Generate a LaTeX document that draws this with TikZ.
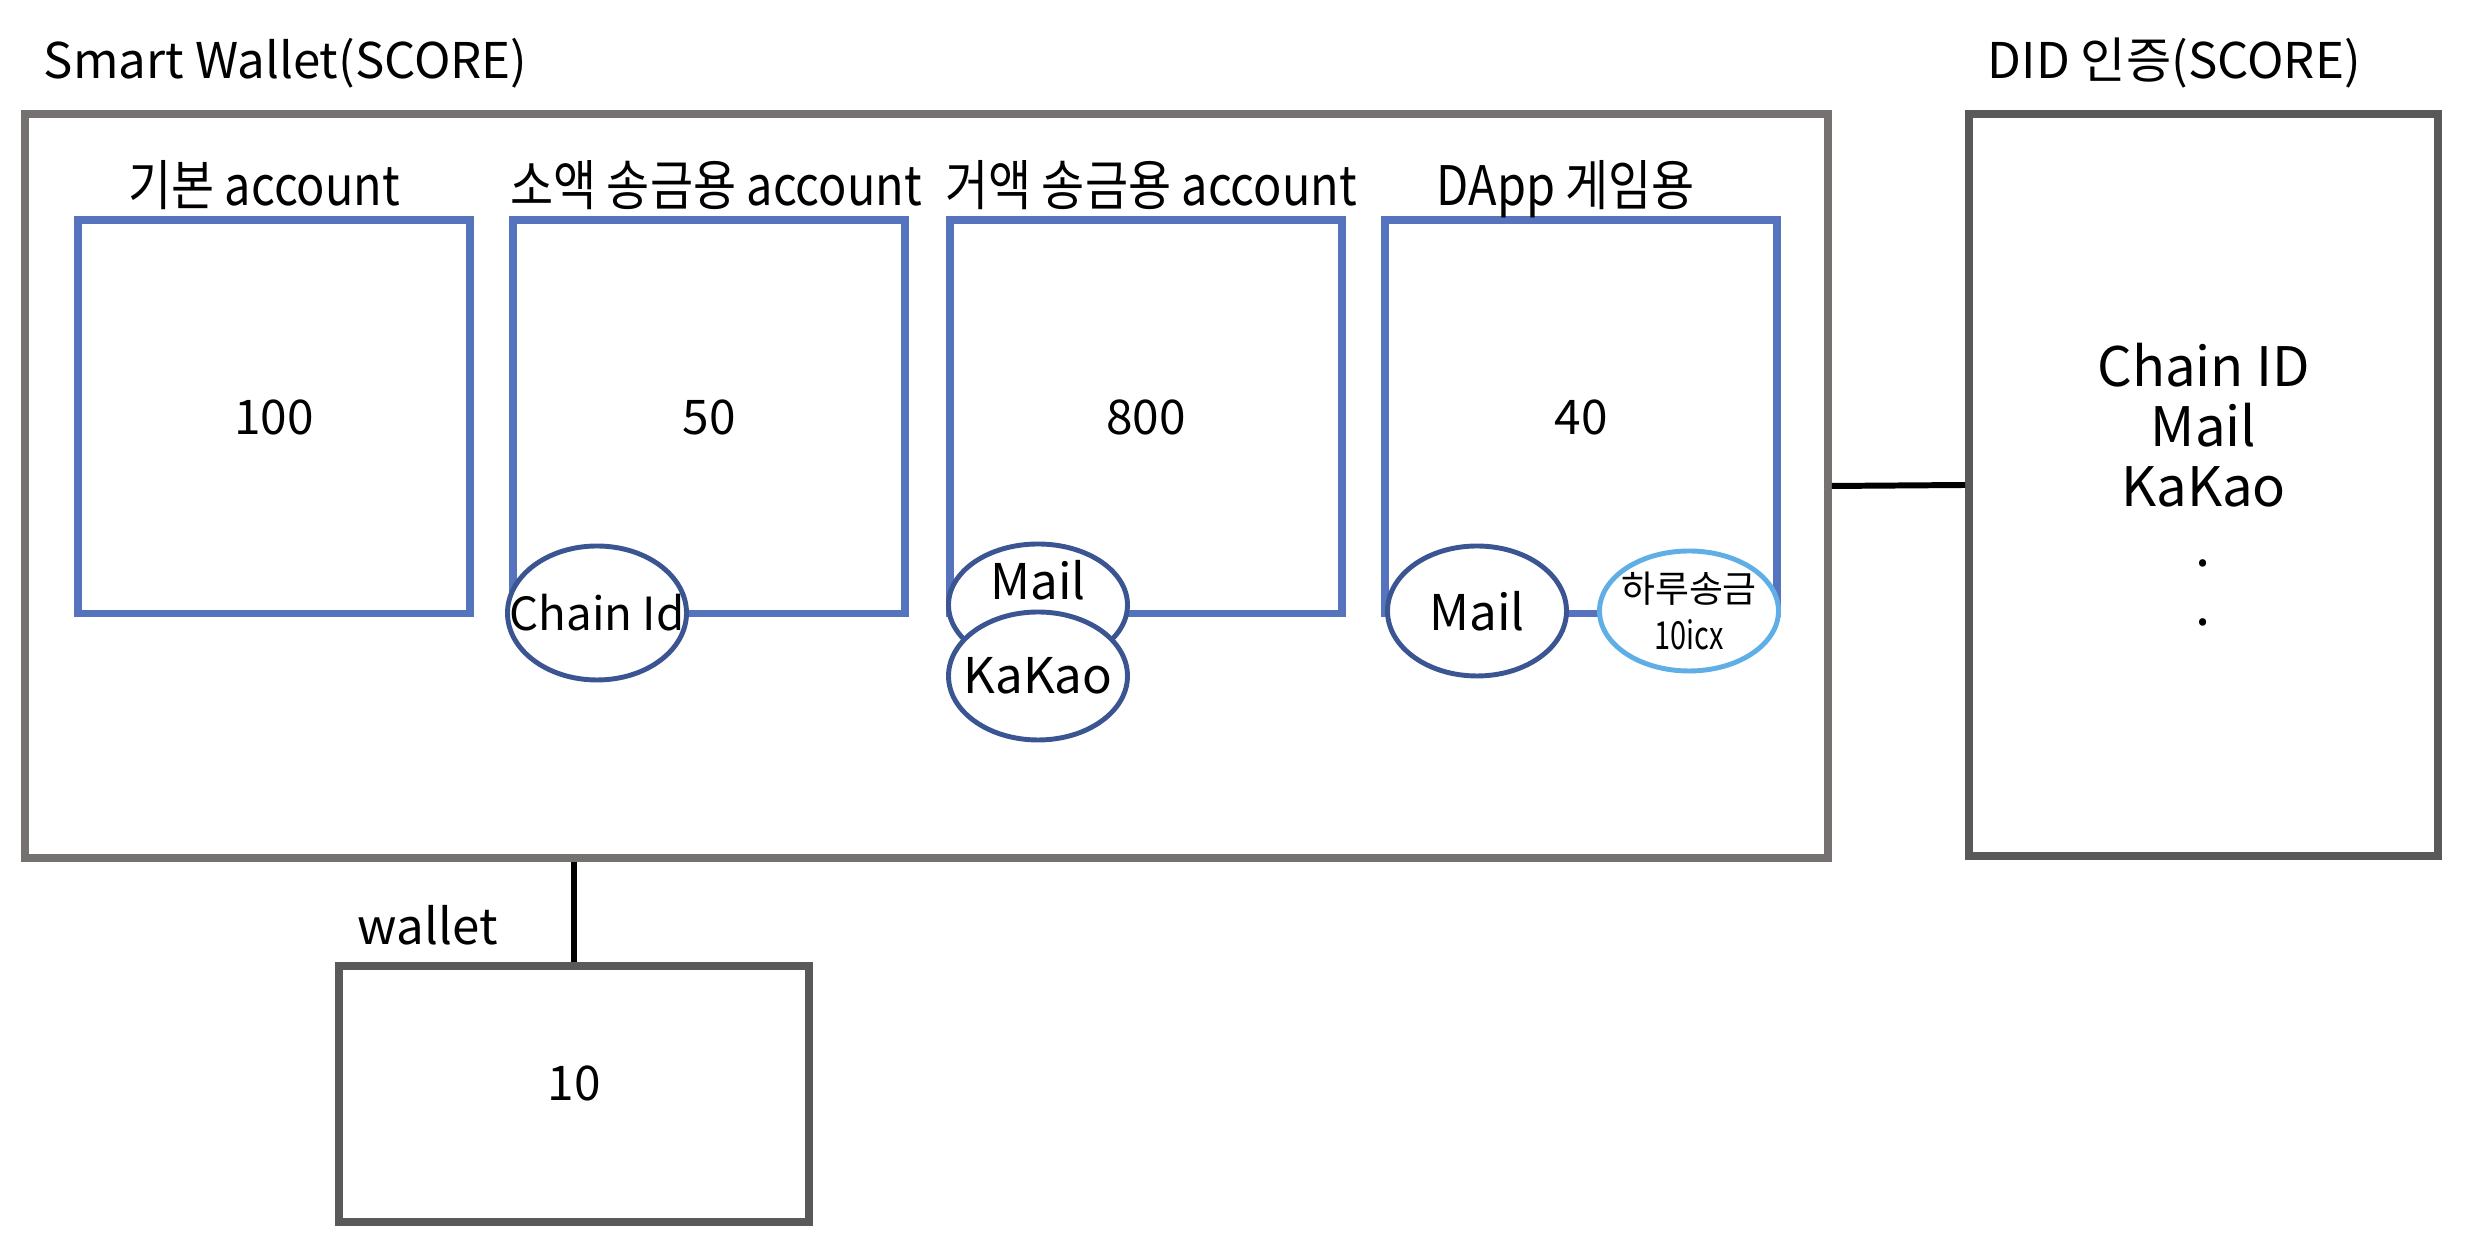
\documentclass[tikz,border=0pt]{standalone}
\usepackage{fontspec}
\setmainfont{Noto Sans CJK KR}
\newfontfamily\narrowkr{Noto Sans CJK KR}[FakeStretch=0.86]
\newfontfamily\tightkr{Noto Sans CJK KR}[FakeStretch=0.75]
\usetikzlibrary{positioning,shapes.geometric}
\definecolor{swgray}{HTML}{767171}
\definecolor{dkgray}{HTML}{595959}
\definecolor{acctblue}{HTML}{5673BE}
\definecolor{tagblue}{HTML}{3B5592}
\definecolor{daylight}{HTML}{5FAEE6}

\begin{document}
\begin{tikzpicture}[x=0.1mm,y=-0.1mm,
  box/.style={draw=#1,line width=2.2pt,inner sep=0pt},
  acct/.style={draw=acctblue,line width=2pt,minimum width=39.2mm,minimum height=39.4mm,inner sep=0pt,font=\fontsize{13.6}{16}\selectfont},
  head/.style={font=\narrowkr\fontsize{15.5}{18}\selectfont,anchor=base,inner sep=0pt},
  boxtitle/.style={inner sep=0pt,font=\fontsize{14}{16}\selectfont},
  tag/.style={ellipse,draw=#1,line width=1.4pt,fill=white,inner sep=0pt,minimum width=17.9mm},
  tagfont/.style={font=\fontsize{14}{16}\selectfont},
  link/.style={line width=1.7pt}]
\useasboundingbox (0,0) rectangle (2482,1250);

\node[box=swgray,minimum width=180.3mm,minimum height=74.4mm] (sw) at (926.5,486) {};
\node[box=dkgray,minimum width=46.9mm,minimum height=74.2mm] (did) at (2203.5,485) {};
\node[boxtitle,above right=2.1mm and 2.2mm of sw.north west] (swname) {Smart Wallet(SCORE)};
\node[boxtitle,above right=2.1mm and 2.2mm of did.north west] (didname) {DID 인증(SCORE)};

\node[acct] (basic) at (274,417) {100};
\node[acct] (small) at (709,417) {50};
\node[acct] (large) at (1146,417) {800};
\node[acct] (dapp) at (1581,417) {40};
\node[head] at ([xshift=-1mm,yshift=3pt]basic.north) {기본 account};
\node[head] at ([xshift=0.7mm,yshift=3pt]small.north) {소액 송금용 account};
\node[head] at ([xshift=0.5mm,yshift=3pt]large.north) {거액 송금용 account};
\node[head] at ([xshift=-1.5mm,yshift=3pt]dapp.north) {DApp 게임용};

\node[tag=tagblue,minimum height=13.4mm,label={[font=\fontsize{13}{16}\selectfont]center:Chain Id}] (chainid) at (597,613) {};
\node[tag=tagblue,minimum height=12.2mm,label={[tagfont,yshift=7pt]center:Mail}] (mailbig) at (1038,605) {};
\node[tag=tagblue,minimum height=12.8mm,label={[tagfont]center:KaKao}] (kakao) at (1038,676) {};
\node[tag=tagblue,minimum height=13mm,label={[tagfont]center:Mail}] (mailgame) at (1477,611) {};
\node[tag=daylight,minimum height=12mm,label={[align=center,font=\fontsize{10.5}{13.5}\selectfont]center:하루송금\\{\tightkr\fontsize{11}{13.5}\selectfont 10icx}}] (daily) at (1689,611) {};

\node[align=center,font=\fontsize{15.5}{17}\selectfont] (didlist) at (did.center) {Chain ID\\Mail\\KaKao\\.\\.};

\node[box=dkgray,minimum width=47mm,minimum height=25.6mm] (wallet) at (574,1094) {};
\node[font=\fontsize{13.6}{16}\selectfont] (walletsum) at ([yshift=3pt]wallet.center) {10};
\node[boxtitle,anchor=base west] (walletname) at ([xshift=2.2mm,yshift=5pt]wallet.north west) {wallet};

\draw[link] (sw.east) -- (did.west);
\draw[link] (wallet.north) -- (wallet.north |- sw.south);
\end{tikzpicture}
\end{document}
